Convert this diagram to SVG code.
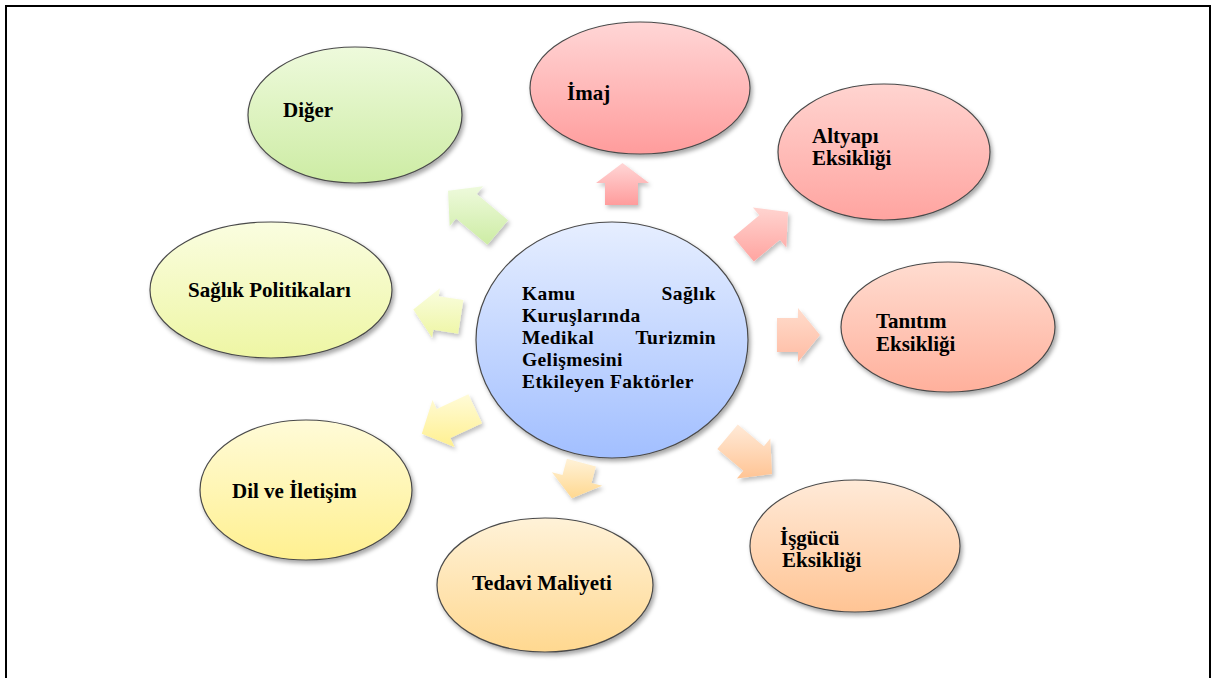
<svg xmlns="http://www.w3.org/2000/svg" width="1215" height="678" viewBox="0 0 1215 678">
<defs>
<filter id="sh" x="-20%" y="-20%" width="140%" height="140%">
<feDropShadow dx="2" dy="3" stdDeviation="2" flood-color="#000" flood-opacity="0.35"/>
</filter>
<filter id="ash" x="-30%" y="-30%" width="160%" height="160%">
<feDropShadow dx="2" dy="3" stdDeviation="2" flood-color="#000" flood-opacity="0.25"/>
</filter>
<linearGradient id="gC" x1="0" y1="0" x2="0" y2="1"><stop offset="0" stop-color="#e6eeff"/><stop offset="1" stop-color="#a2bfff"/></linearGradient>
<linearGradient id="gImaj" x1="0" y1="0" x2="0" y2="1"><stop offset="0" stop-color="#ffd6d6"/><stop offset="1" stop-color="#ff9c9c"/></linearGradient>
<linearGradient id="gAlt" x1="0" y1="0" x2="0" y2="1"><stop offset="0" stop-color="#ffd4d0"/><stop offset="1" stop-color="#ffa4a0"/></linearGradient>
<linearGradient id="gTan" x1="0" y1="0" x2="0" y2="1"><stop offset="0" stop-color="#ffdcd0"/><stop offset="1" stop-color="#ffb09c"/></linearGradient>
<linearGradient id="gTanA" x1="0" y1="0" x2="0" y2="1"><stop offset="0" stop-color="#ffdccc"/><stop offset="1" stop-color="#ffbca4"/></linearGradient>
<linearGradient id="gIsg" x1="0" y1="0" x2="0" y2="1"><stop offset="0" stop-color="#ffead8"/><stop offset="1" stop-color="#ffc494"/></linearGradient>
<linearGradient id="gTed" x1="0" y1="0" x2="0" y2="1"><stop offset="0" stop-color="#fff2d8"/><stop offset="1" stop-color="#ffd890"/></linearGradient>
<linearGradient id="gDil" x1="0" y1="0" x2="0" y2="1"><stop offset="0" stop-color="#fffbd8"/><stop offset="1" stop-color="#fff090"/></linearGradient>
<linearGradient id="gSag" x1="0" y1="0" x2="0" y2="1"><stop offset="0" stop-color="#fafde0"/><stop offset="1" stop-color="#eef6a4"/></linearGradient>
<linearGradient id="gDig" x1="0" y1="0" x2="0" y2="1"><stop offset="0" stop-color="#eefadc"/><stop offset="1" stop-color="#cdeca4"/></linearGradient>
</defs>
<style>
.n ellipse{stroke:#4a4a4a;stroke-width:1.2;filter:url(#sh)}
.t{font-family:"Liberation Serif","Times New Roman",serif;font-weight:bold;font-size:21px;fill:#000}
.c{font-size:19.5px;letter-spacing:0.4px}
.a path{filter:url(#ash);stroke:none}
</style>
<rect width="1215" height="678" fill="#fff"/>
<path d="M6,678 V6 H1210 V678" fill="none" stroke="#000" stroke-width="2"/>

<g id="connectors" class="a">
<path d="M487.5,244.8 L456.1,218.4 L449.7,226.1 L448,190.7 L483.1,186.2 L476.7,193.9 L508.1,220.2 Z" fill="url(#gDig)"/>
<path d="M605,205 L605,183 L596,183 L622.5,163 L649,183 L638,183 L638,205 Z" fill="url(#gImaj)"/>
<path d="M733.3,237 L759.3,215.2 L752.9,207.5 L788,212 L786.3,247.4 L779.9,239.7 L753.8,261.6 Z" fill="url(#gAlt)"/>
<path d="M777,318 L798,318 L798,308 L820,335 L798,362 L798,352 L777,352 Z" fill="url(#gTanA)"/>
<path d="M737.8,424.4 L763.9,446.3 L770.3,438.6 L772,474 L736.9,478.5 L743.3,470.8 L717.3,449 Z" fill="url(#gIsg)"/>
<path d="M595.9,466.5 L591.5,482.9 L602.1,485.7 L571.8,498.3 L551.9,472.3 L562.5,475.1 L566.9,458.7 Z" fill="url(#gTed)"/>
<path d="M482,423.2 L450.3,438 L454.5,447.1 L421.8,433.7 L432.5,399.9 L436.7,409 L468.4,394.2 Z" fill="url(#gDil)"/>
<path d="M458.1,333.7 L433.4,329.8 L432.1,337.7 L413.3,309.4 L439.9,288.3 L438.7,296.2 L463.4,300.1 Z" fill="url(#gSag)"/>
</g>

<g id="center" class="n">
<ellipse cx="612" cy="340" rx="136" ry="118" fill="url(#gC)"/>
<text class="t c" x="522" y="300">Kamu</text>
<text class="t c" x="716" y="300" text-anchor="end">Sağlık</text>
<text class="t c" x="522" y="322">Kuruşlarında</text>
<text class="t c" x="522" y="344">Medikal</text>
<text class="t c" x="716" y="344" text-anchor="end">Turizmin</text>
<text class="t c" x="522" y="366">Gelişmesini</text>
<text class="t c" x="522" y="388">Etkileyen Faktörler</text>
</g>

<g id="imaj" class="n">
<ellipse cx="640" cy="88" rx="110" ry="66" fill="url(#gImaj)"/>
<text class="t" x="567" y="100">İmaj</text>
</g>

<g id="altyapi" class="n">
<ellipse cx="884" cy="152" rx="106" ry="68" fill="url(#gAlt)"/>
<text class="t" x="812" y="143">Altyapı</text>
<text class="t" x="812" y="165">Eksikliği</text>
</g>

<g id="tanitim" class="n">
<ellipse cx="948" cy="327" rx="107" ry="65" fill="url(#gTan)"/>
<text class="t" x="876" y="328">Tanıtım</text>
<text class="t" x="876" y="351">Eksikliği</text>
</g>

<g id="isgucu" class="n">
<ellipse cx="855" cy="546" rx="105" ry="66" fill="url(#gIsg)"/>
<text class="t" x="780" y="545">İşgücü</text>
<text class="t" x="782" y="567">Eksikliği</text>
</g>

<g id="tedavi" class="n">
<ellipse cx="545" cy="585" rx="108" ry="67" fill="url(#gTed)"/>
<text class="t" x="472" y="590">Tedavi Maliyeti</text>
</g>

<g id="dil" class="n">
<ellipse cx="306" cy="490" rx="106" ry="70" fill="url(#gDil)"/>
<text class="t" x="232" y="498">Dil ve İletişim</text>
</g>

<g id="saglik" class="n">
<ellipse cx="271" cy="290" rx="121" ry="68" fill="url(#gSag)"/>
<text class="t" x="188" y="297">Sağlık Politikaları</text>
</g>

<g id="diger" class="n">
<ellipse cx="355" cy="115" rx="107" ry="68" fill="url(#gDig)"/>
<text class="t" x="283" y="117">Diğer</text>
</g>
</svg>
